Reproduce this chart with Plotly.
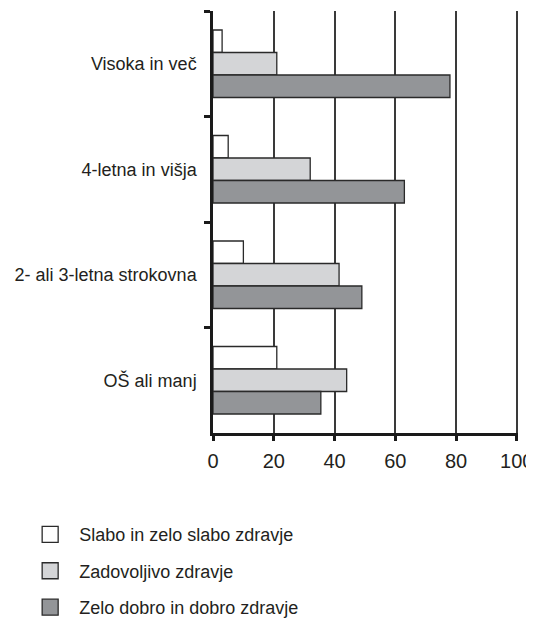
import plotly.graph_objects as go

categories = ["Visoka in več", "4-letna in višja", "2- ali 3-letna strokovna", "OŠ ali manj"]
series_names = ["Slabo in zelo slabo zdravje", "Zadovoljivo zdravje", "Zelo dobro in dobro zdravje"]
slabo = [3, 5, 10, 21]
zadovoljivo = [21, 32, 41.5, 44]
zelo_dobro = [78, 63, 49, 35.5]
x_ticks = [0, 20, 40, 60, 80, 100]

colors = ["#ffffff", "#d4d5d7", "#939598"]
values = [slabo, zadovoljivo, zelo_dobro]
outline = "#2a2a2a"

fig = go.Figure()
for i, (name, vals, col) in enumerate(zip(series_names, values, colors)):
    fig.add_trace(go.Bar(
        y=categories, x=vals, name=name, orientation="h",
        marker=dict(color=col, line=dict(color=outline, width=1.3)),
        legendgroup=f"g{i}", showlegend=False,
    ))
    # legend entry with a larger square symbol
    fig.add_trace(go.Scatter(
        x=[None], y=[None], mode="markers", name=name,
        marker=dict(symbol="square", size=21, color=col,
                    line=dict(color=outline, width=1.3)),
        legendgroup=f"g{i}", showlegend=True,
    ))

fig.update_layout(
    width=534, height=620,
    margin=dict(l=205, r=24, t=3, b=195, autoexpand=False),
    paper_bgcolor="white", plot_bgcolor="white",
    barmode="group", bargap=0.36, bargroupgap=0,
    font=dict(family="Liberation Sans, Arial, sans-serif", size=18, color="#231f20"),
    showlegend=True,
    legend=dict(
        x=-0.629, y=-0.197, xanchor="left", yanchor="top",
        traceorder="grouped", font=dict(size=18),
        bgcolor="rgba(0,0,0,0)", itemwidth=48, tracegroupgap=10,
        itemsizing="trace",
    ),
    xaxis=dict(
        range=[0, 100.4], tickvals=x_ticks, showgrid=True,
        gridcolor="#3a3a3a", gridwidth=1.5,
        showline=True, linecolor="#1a1a1a", linewidth=2.5,
        ticks="outside", ticklen=5, tickwidth=2.5, tickcolor="#1a1a1a",
        zeroline=False, tickfont=dict(size=20), automargin=False,
        ticklabelstandoff=3,
    ),
    yaxis=dict(
        type="category", categoryorder="array", categoryarray=categories,
        autorange="reversed",
        showline=True, linecolor="#1a1a1a", linewidth=2.5,
        ticks="outside", ticklen=6, tickwidth=2.5, tickcolor="#1a1a1a",
        tickson="boundaries", showgrid=False, ticklabelstandoff=10,
        automargin=False,
    ),
)

fig.write_html("out.html")
